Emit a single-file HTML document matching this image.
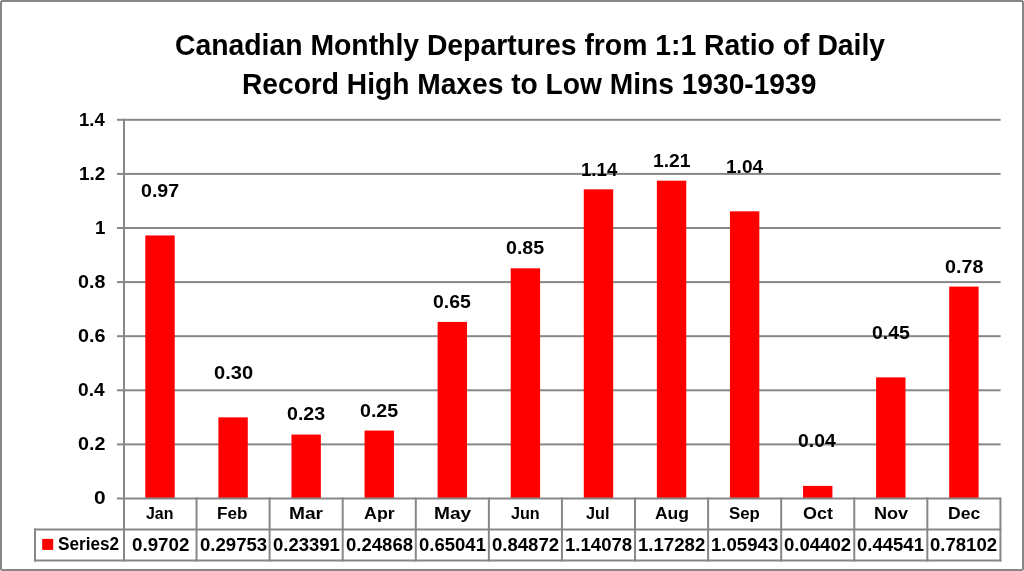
<!DOCTYPE html>
<html><head><meta charset="utf-8"><title>Canadian Monthly Departures from 1:1 Ratio of Daily Record High Maxes to Low Mins 1930-1939</title>
<style>
*{margin:0;padding:0;box-sizing:border-box}
html,body{width:1024px;height:571px;overflow:hidden;background:#fff}
body{position:relative;font-family:"Liberation Sans", Arial, sans-serif;font-weight:bold;color:#000}
.t{position:absolute;white-space:nowrap;transform-origin:0 0;filter:grayscale(1)}
.g{position:absolute;left:0;top:0}
</style></head><body>
<svg class="g" width="1024" height="571" viewBox="0 0 1024 571"><rect x="1" y="1" width="1022" height="569" rx="1.5" fill="none" stroke="#878787" stroke-width="2"/><rect x="117.00" y="118.80" width="883.60" height="2.00" fill="#878787"/><rect x="117.00" y="172.90" width="883.60" height="2.00" fill="#878787"/><rect x="117.00" y="227.00" width="883.60" height="2.00" fill="#878787"/><rect x="117.00" y="281.10" width="883.60" height="2.00" fill="#878787"/><rect x="117.00" y="335.20" width="883.60" height="2.00" fill="#878787"/><rect x="117.00" y="389.30" width="883.60" height="2.00" fill="#878787"/><rect x="117.00" y="443.40" width="883.60" height="2.00" fill="#878787"/><rect x="145.30" y="235.46" width="29.40" height="263.54" fill="#f00"/><rect x="218.38" y="417.35" width="29.40" height="81.65" fill="#f00"/><rect x="291.46" y="434.55" width="29.40" height="64.45" fill="#f00"/><rect x="364.54" y="430.56" width="29.40" height="68.44" fill="#f00"/><rect x="437.62" y="321.93" width="29.40" height="177.07" fill="#f00"/><rect x="510.70" y="268.31" width="29.40" height="230.69" fill="#f00"/><rect x="583.78" y="189.33" width="29.40" height="309.67" fill="#f00"/><rect x="656.86" y="180.67" width="29.40" height="318.33" fill="#f00"/><rect x="729.94" y="211.33" width="29.40" height="287.67" fill="#f00"/><rect x="803.02" y="485.90" width="29.40" height="13.10" fill="#f00"/><rect x="876.10" y="377.36" width="29.40" height="121.64" fill="#f00"/><rect x="949.18" y="286.61" width="29.40" height="212.39" fill="#f00"/><rect x="117.00" y="497.50" width="883.60" height="2.00" fill="#878787"/><rect x="123.00" y="118.80" width="2.00" height="442.70" fill="#878787"/><rect x="34.00" y="528.50" width="967.40" height="2.00" fill="#878787"/><rect x="34.00" y="559.50" width="967.40" height="2.00" fill="#878787"/><rect x="34.00" y="528.50" width="2.00" height="33.00" fill="#878787"/><rect x="195.54" y="497.50" width="2.00" height="64.00" fill="#878787"/><rect x="268.62" y="497.50" width="2.00" height="64.00" fill="#878787"/><rect x="341.70" y="497.50" width="2.00" height="64.00" fill="#878787"/><rect x="414.78" y="497.50" width="2.00" height="64.00" fill="#878787"/><rect x="487.86" y="497.50" width="2.00" height="64.00" fill="#878787"/><rect x="560.94" y="497.50" width="2.00" height="64.00" fill="#878787"/><rect x="634.02" y="497.50" width="2.00" height="64.00" fill="#878787"/><rect x="707.10" y="497.50" width="2.00" height="64.00" fill="#878787"/><rect x="780.18" y="497.50" width="2.00" height="64.00" fill="#878787"/><rect x="853.26" y="497.50" width="2.00" height="64.00" fill="#878787"/><rect x="926.34" y="497.50" width="2.00" height="64.00" fill="#878787"/><rect x="999.42" y="497.50" width="2.00" height="64.00" fill="#878787"/><rect x="42.20" y="538.90" width="11.00" height="11.00" fill="#f00"/></svg>
<div class="t" style="left:174.91px;top:30.27px;font-size:29.50px;line-height:29.50px;transform:scaleX(0.9606)">Canadian Monthly Departures from 1:1 Ratio of Daily</div>
<div class="t" style="left:242.07px;top:69.29px;font-size:29.50px;line-height:29.50px;transform:scaleX(0.9546)">Record High Maxes to Low Mins 1930-1939</div>
<div class="t" style="left:79.35px;top:111.70px;font-size:17.50px;line-height:17.50px;transform:scaleX(1.0555)">1.4</div>
<div class="t" style="left:79.20px;top:166.49px;font-size:17.50px;line-height:17.50px;transform:scaleX(1.0765)">1.2</div>
<div class="t" style="left:95.03px;top:219.70px;font-size:17.50px;line-height:17.50px;transform:scaleX(1.0698)">1</div>
<div class="t" style="left:78.25px;top:273.99px;font-size:17.50px;line-height:17.50px;transform:scaleX(1.1245)">0.8</div>
<div class="t" style="left:78.10px;top:328.32px;font-size:17.50px;line-height:17.50px;transform:scaleX(1.1302)">0.6</div>
<div class="t" style="left:78.42px;top:382.10px;font-size:17.50px;line-height:17.50px;transform:scaleX(1.0924)">0.4</div>
<div class="t" style="left:78.14px;top:436.03px;font-size:17.50px;line-height:17.50px;transform:scaleX(1.1244)">0.2</div>
<div class="t" style="left:93.84px;top:490.41px;font-size:17.50px;line-height:17.50px;transform:scaleX(1.1950)">0</div>
<div class="t" style="left:140.51px;top:183.05px;font-size:17.50px;line-height:17.50px;transform:scaleX(1.1192)">0.97</div>
<div class="t" style="left:214.28px;top:364.78px;font-size:17.50px;line-height:17.50px;transform:scaleX(1.1487)">0.30</div>
<div class="t" style="left:286.69px;top:406.29px;font-size:17.50px;line-height:17.50px;transform:scaleX(1.1214)">0.23</div>
<div class="t" style="left:360.16px;top:402.78px;font-size:17.50px;line-height:17.50px;transform:scaleX(1.1202)">0.25</div>
<div class="t" style="left:432.86px;top:294.40px;font-size:17.50px;line-height:17.50px;transform:scaleX(1.1123)">0.65</div>
<div class="t" style="left:506.16px;top:239.98px;font-size:17.50px;line-height:17.50px;transform:scaleX(1.1202)">0.85</div>
<div class="t" style="left:580.94px;top:161.65px;font-size:17.50px;line-height:17.50px;transform:scaleX(1.0648)">1.14</div>
<div class="t" style="left:652.81px;top:153.24px;font-size:17.50px;line-height:17.50px;transform:scaleX(1.1020)">1.21</div>
<div class="t" style="left:726.14px;top:158.75px;font-size:17.50px;line-height:17.50px;transform:scaleX(1.0889)">1.04</div>
<div class="t" style="left:797.78px;top:432.80px;font-size:17.50px;line-height:17.50px;transform:scaleX(1.1055)">0.04</div>
<div class="t" style="left:871.56px;top:325.15px;font-size:17.50px;line-height:17.50px;transform:scaleX(1.1118)">0.45</div>
<div class="t" style="left:945.47px;top:258.50px;font-size:17.50px;line-height:17.50px;transform:scaleX(1.1276)">0.78</div>
<div class="t" style="left:145.84px;top:504.70px;font-size:17.30px;line-height:17.30px;transform:scaleX(0.9221)">Jan</div>
<div class="t" style="left:217.38px;top:504.70px;font-size:17.30px;line-height:17.30px;transform:scaleX(0.9925)">Feb</div>
<div class="t" style="left:288.81px;top:504.70px;font-size:17.30px;line-height:17.30px;transform:scaleX(1.1081)">Mar</div>
<div class="t" style="left:364.03px;top:504.70px;font-size:17.30px;line-height:17.30px;transform:scaleX(1.0317)">Apr</div>
<div class="t" style="left:434.04px;top:504.70px;font-size:17.30px;line-height:17.30px;transform:scaleX(1.1087)">May</div>
<div class="t" style="left:510.80px;top:504.70px;font-size:17.30px;line-height:17.30px;transform:scaleX(0.9356)">Jun</div>
<div class="t" style="left:586.40px;top:504.70px;font-size:17.30px;line-height:17.30px;transform:scaleX(0.9361)">Jul</div>
<div class="t" style="left:655.19px;top:504.70px;font-size:17.30px;line-height:17.30px;transform:scaleX(1.0111)">Aug</div>
<div class="t" style="left:728.83px;top:504.70px;font-size:17.30px;line-height:17.30px;transform:scaleX(0.9744)">Sep</div>
<div class="t" style="left:803.33px;top:504.70px;font-size:17.30px;line-height:17.30px;transform:scaleX(1.0366)">Oct</div>
<div class="t" style="left:874.02px;top:504.70px;font-size:17.30px;line-height:17.30px;transform:scaleX(1.0471)">Nov</div>
<div class="t" style="left:948.24px;top:504.70px;font-size:17.30px;line-height:17.30px;transform:scaleX(1.0164)">Dec</div>
<div class="t" style="left:131.68px;top:536.70px;font-size:17.50px;line-height:17.50px;transform:scaleX(1.0716)">0.9702</div>
<div class="t" style="left:200.31px;top:536.69px;font-size:17.50px;line-height:17.50px;transform:scaleX(1.0613)">0.29753</div>
<div class="t" style="left:272.88px;top:536.69px;font-size:17.50px;line-height:17.50px;transform:scaleX(1.0573)">0.23391</div>
<div class="t" style="left:345.88px;top:536.70px;font-size:17.50px;line-height:17.50px;transform:scaleX(1.0602)">0.24868</div>
<div class="t" style="left:419.17px;top:536.70px;font-size:17.50px;line-height:17.50px;transform:scaleX(1.0581)">0.65041</div>
<div class="t" style="left:492.14px;top:536.70px;font-size:17.50px;line-height:17.50px;transform:scaleX(1.0601)">0.84872</div>
<div class="t" style="left:564.89px;top:536.70px;font-size:17.50px;line-height:17.50px;transform:scaleX(1.0621)">1.14078</div>
<div class="t" style="left:637.78px;top:536.70px;font-size:17.50px;line-height:17.50px;transform:scaleX(1.0633)">1.17282</div>
<div class="t" style="left:711.10px;top:536.69px;font-size:17.50px;line-height:17.50px;transform:scaleX(1.0629)">1.05943</div>
<div class="t" style="left:784.43px;top:536.70px;font-size:17.50px;line-height:17.50px;transform:scaleX(1.0601)">0.04402</div>
<div class="t" style="left:857.34px;top:536.70px;font-size:17.50px;line-height:17.50px;transform:scaleX(1.0580)">0.44541</div>
<div class="t" style="left:930.38px;top:536.70px;font-size:17.50px;line-height:17.50px;transform:scaleX(1.0601)">0.78102</div>
<div class="t" style="left:57.62px;top:534.94px;font-size:18.00px;line-height:18.00px;transform:scaleX(0.9542)">Series2</div>
</body></html>
